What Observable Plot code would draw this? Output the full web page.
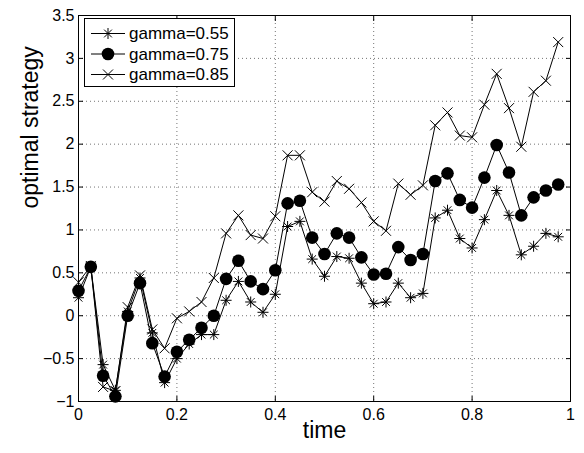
<!DOCTYPE html>
<html>
<head>
<meta charset="utf-8">
<script src="https://cdn.jsdelivr.net/npm/d3@7"></script>
<script src="https://cdn.jsdelivr.net/npm/@observablehq/plot@0.6"></script>
<style>
  body { margin: 0; background: #fff; font-family: "Liberation Sans", Arial, Helvetica, sans-serif; }
  #wrap { position: relative; width: 584px; height: 453px; }
  #legend { position: absolute; left: 84px; top: 18px; }
</style>
</head>
<body>
<div id="wrap"></div>
<script>
// ---- data ----
const time = [0, 0.025, 0.05, 0.075, 0.1, 0.125, 0.15, 0.175, 0.2, 0.225,
              0.25, 0.275, 0.3, 0.325, 0.35, 0.375, 0.4, 0.425, 0.45, 0.475,
              0.5, 0.525, 0.55, 0.575, 0.6, 0.625, 0.65, 0.675, 0.7, 0.725,
              0.75, 0.775, 0.8, 0.825, 0.85, 0.875, 0.9, 0.925, 0.95, 0.975];
const gamma055 = [0.21, 0.57, -0.57, -0.87, 0.05, 0.44, -0.20, -0.78, -0.50, -0.33,
                  -0.22, -0.22, 0.18, 0.40, 0.16, 0.04, 0.25, 1.04, 1.10, 0.66,
                  0.46, 0.69, 0.67, 0.38, 0.14, 0.16, 0.38, 0.21, 0.26, 1.14,
                  1.23, 0.90, 0.79, 1.12, 1.46, 1.17, 0.71, 0.81, 0.96, 0.92];
const gamma075 = [0.29, 0.57, -0.70, -0.94, 0.00, 0.38, -0.32, -0.71, -0.42, -0.28,
                  -0.14, 0.00, 0.43, 0.64, 0.40, 0.31, 0.53, 1.31, 1.34, 0.91,
                  0.72, 0.96, 0.91, 0.68, 0.48, 0.49, 0.80, 0.65, 0.72, 1.57,
                  1.66, 1.35, 1.26, 1.61, 1.99, 1.67, 1.17, 1.38, 1.46, 1.53];
const gamma085 = [0.39, 0.58, -0.83, -0.88, 0.10, 0.47, -0.16, -0.38, -0.03, 0.05,
                  0.16, 0.44, 0.96, 1.17, 0.94, 0.90, 1.16, 1.87, 1.87, 1.44,
                  1.33, 1.57, 1.48, 1.32, 1.10, 0.99, 1.54, 1.41, 1.52, 2.22,
                  2.37, 2.10, 2.08, 2.46, 2.82, 2.42, 1.97, 2.61, 2.74, 3.19];
const seriesNames = ["gamma=0.55", "gamma=0.75", "gamma=0.85"];
const xTicks = [0, 0.2, 0.4, 0.6, 0.8, 1];
const yTicks = [-1, -0.5, 0, 0.5, 1, 1.5, 2, 2.5, 3, 3.5];
const xLabel = "time";
const yLabel = "optimal strategy";

// ---- build tables ----
const seriesValues = [gamma055, gamma075, gamma085];
const rows = seriesNames.flatMap((name, k) =>
  time.map((t, i) => ({t, v: seriesValues[k][i], s: name})));

// ---- custom MATLAB-like markers ----
const asterisk = {
  draw(ctx, size) {
    const r = Math.sqrt(size / Math.PI), d = r * Math.SQRT1_2;
    ctx.moveTo(-r, 0); ctx.lineTo(r, 0);
    ctx.moveTo(0, -r); ctx.lineTo(0, r);
    ctx.moveTo(-d, -d); ctx.lineTo(d, d);
    ctx.moveTo(-d, d); ctx.lineTo(d, -d);
  }
};
const cross = {
  draw(ctx, size) {
    const r = Math.sqrt(size / Math.PI);
    ctx.moveTo(-r, -r); ctx.lineTo(r, r);
    ctx.moveTo(-r, r); ctx.lineTo(r, -r);
  }
};
const markerDefs = [
  {symbol: asterisk, r: 5.5, fill: "none", stroke: "black"},
  {symbol: "circle", r: 6.3, fill: "black", stroke: "none"},
  {symbol: cross, r: 5, fill: "none", stroke: "black"}
];

const fmt = d3.format("~g");
const gridStyle = {stroke: "#000", strokeOpacity: 0.55, strokeDasharray: "1,3", strokeWidth: 1};

const chart = Plot.plot({
  width: 584,
  height: 453,
  marginLeft: 78,
  marginRight: 14,
  marginTop: 15,
  marginBottom: 52,
  style: {fontFamily: "'Liberation Sans', Arial, Helvetica, sans-serif", fontSize: "16px", background: "white", color: "black"},
  x: {domain: [0, 1]},
  y: {domain: [-1, 3.5]},
  marks: [
    Plot.gridX(xTicks, gridStyle),
    Plot.gridY(yTicks, gridStyle),
    Plot.line(rows, {x: "t", y: "v", z: "s", stroke: "black", strokeWidth: 1}),
    ...seriesNames.map((name, k) =>
      Plot.dot(rows.filter(d => d.s === name), {
        x: "t", y: "v",
        symbol: markerDefs[k].symbol, r: markerDefs[k].r,
        fill: markerDefs[k].fill, stroke: markerDefs[k].stroke, strokeWidth: 1
      })),
    Plot.frame({stroke: "black", strokeWidth: 1}),
    Plot.axisX(xTicks, {anchor: "bottom", tickSize: 0, tickPadding: 7, tickFormat: fmt, label: null}),
    Plot.axisX(xTicks, {anchor: "bottom", tickSize: -5, text: null, label: null}),
    Plot.axisX(xTicks, {anchor: "top", tickSize: -5, text: null, label: null}),
    Plot.axisY(yTicks, {anchor: "left", tickSize: 0, tickPadding: 4, tickFormat: fmt, label: null}),
    Plot.axisY(yTicks, {anchor: "left", tickSize: -5, text: null, label: null}),
    Plot.axisY(yTicks, {anchor: "right", tickSize: -5, text: null, label: null}),
    Plot.text([xLabel], {text: d => d, frameAnchor: "bottom", dy: 36, fontSize: 23}),
    Plot.text([yLabel], {text: d => d, frameAnchor: "left", dx: -48, rotate: -90, fontSize: 23})
  ]
});

const wrap = document.getElementById("wrap");
wrap.appendChild(chart);

// ---- legend (overlay inside plot area, MATLAB style) ----
const lw = 151, lh = 69, rowY = [15.5, 36, 56.5];
const lg = d3.select(wrap).append("svg")
  .attr("id", "legend").attr("width", lw).attr("height", lh)
  .style("font-family", "'Liberation Sans', Arial, Helvetica, sans-serif")
  .style("font-size", "17px");
lg.append("rect").attr("x", 0.5).attr("y", 0.5).attr("width", lw - 1).attr("height", lh - 1)
  .attr("fill", "white").attr("stroke", "black");
seriesNames.forEach((name, k) => {
  const g = lg.append("g").attr("transform", `translate(0,${rowY[k]})`);
  g.append("line").attr("x1", 7).attr("x2", 41).attr("y1", 0).attr("y2", 0)
    .attr("stroke", "black").attr("stroke-width", 1);
  const m = markerDefs[k];
  const sym = m.symbol === "circle" ? d3.symbolCircle : m.symbol;
  g.append("path").attr("transform", "translate(24,0)")
    .attr("d", d3.symbol(sym, Math.PI * m.r * m.r)())
    .attr("fill", m.fill).attr("stroke", m.stroke === "none" ? null : m.stroke)
    .attr("stroke-width", 1);
  g.append("text").attr("x", 45).attr("y", 0).attr("dy", "0.35em").text(name);
});
</script>
</body>
</html>
